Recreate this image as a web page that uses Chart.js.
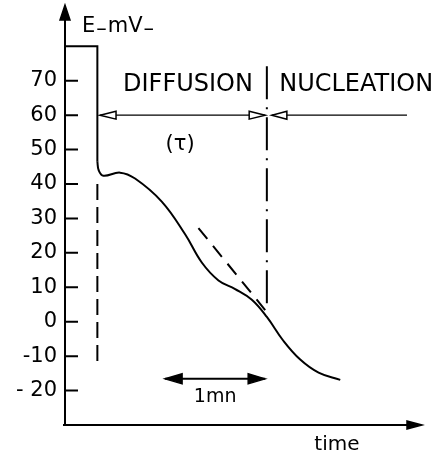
<!DOCTYPE html>
<html>
<head>
<meta charset="utf-8">
<script src="https://cdn.jsdelivr.net/npm/chart.js@4.4.1/dist/chart.umd.min.js"></script>
<style>
  body { margin: 0; background: #fff; }
  canvas { display: block; }
</style>
</head>
<body>
<canvas id="chart" width="441" height="454"></canvas>
<script>
// time in seconds (1mn = 60 s), potential in mV
const stepTimes = [0, 19.4, 19.4];
const stepValues = [80, 80, 46.5];

const curveTimes = [19.4, 20.2, 23, 33, 42, 58, 72, 82, 92, 102, 112, 121, 131, 141, 152, 165];
const curveValues = [46.5, 44.0, 42.4, 43.3, 41.6, 34.9, 25.4, 17.2, 12.0, 9.5, 6.4, 1.4, -5.6, -11.0, -14.8, -16.9];

const startTime = 19.4;
const startLine = [40, -11.7];
const tauTime = 121;
const tauLine = [74.2, 4];
const tangentTimes = [80, 120];
const tangentValues = [27.2, 3.4];

const arrowLevel = 60;
const diffusionSpan = [21, 120];
const nucleationSpan = [124, 205];
const minuteLevel = -16.6;
const minuteSpan = [60, 120];

const yTicks = [70, 60, 50, 40, 30, 20, 10, 0, -10, -20];
const yTickLabels = ['70', '60', '50', '40', '30', '20', '10', '0', '-10', '- 20'];

const ink = '#000';
const font = 'DejaVu Sans';

const pts = (xs, ys) => xs.map((x, i) => ({ x: x, y: ys[i] }));
const vline = (t, ys) => ys.map(v => ({ x: t, y: v }));
const hline = (v, xs) => xs.map(t => ({ x: t, y: v }));

function head(ctx, x, y, ang, len, half, filled) {
  ctx.save();
  ctx.translate(x, y);
  ctx.rotate(ang);
  ctx.beginPath();
  ctx.moveTo(0, 0);
  ctx.lineTo(-len, -half);
  ctx.lineTo(-len, half);
  ctx.closePath();
  ctx.fillStyle = filled ? ink : '#fff';
  ctx.fill();
  ctx.lineWidth = 1.5;
  ctx.strokeStyle = ink;
  ctx.stroke();
  ctx.restore();
}

const scribe = {
  id: 'scribe',
  beforeDatasetsDraw(chart) {
    const { ctx, chartArea: a, scales: { y } } = chart;
    ctx.save();
    ctx.strokeStyle = ink;
    ctx.lineWidth = 2;
    ctx.beginPath();
    ctx.moveTo(a.left, a.bottom);
    ctx.lineTo(a.left, a.top + 12);
    ctx.moveTo(a.left - 2, a.bottom);
    ctx.lineTo(a.right - 12, a.bottom);
    yTicks.forEach(v => {
      const p = y.getPixelForValue(v);
      ctx.moveTo(a.left, p);
      ctx.lineTo(a.left + 13, p);
    });
    ctx.stroke();
    head(ctx, a.left, a.top, -Math.PI / 2, 15, 5, true);
    head(ctx, a.right, a.bottom, 0, 15, 4, true);
    ctx.restore();
  },
  afterDatasetsDraw(chart) {
    const { ctx, scales: { x, y } } = chart;
    chart.data.datasets.forEach((ds, i) => {
      const p = chart.getDatasetMeta(i).data;
      if (!p.length) return;
      const n = p.length;
      if (ds.arrowStart) {
        const ang = Math.atan2(p[0].y - p[1].y, p[0].x - p[1].x);
        head(ctx, p[0].x, p[0].y, ang, ds.arrowLen, ds.arrowHalf, ds.arrowStart === 'filled');
      }
      if (ds.arrowEnd) {
        const ang = Math.atan2(p[n - 1].y - p[n - 2].y, p[n - 1].x - p[n - 2].x);
        head(ctx, p[n - 1].x, p[n - 1].y, ang, ds.arrowLen, ds.arrowHalf, ds.arrowEnd === 'filled');
      }
    });

    ctx.save();
    ctx.fillStyle = ink;
    ctx.textBaseline = 'alphabetic';
    const text = (s, t, v, size, align) => {
      ctx.font = size + 'px "' + font + '"';
      ctx.textAlign = align;
      ctx.fillText(s, x.getPixelForValue(t), y.getPixelForValue(v));
    };
    text('DIFFUSION', 34.8, 67, 24, 'left');
    text('NUCLEATION', 128.4, 67, 24, 'left');
    ctx.textBaseline = 'middle';
    text('(\u03c4)', 69, 51.5, 21, 'center');
    ctx.textBaseline = 'alphabetic';
    text('1mn', 90, -23.4, 19, 'center');
    text('time', 163, -37.4, 20, 'center');

    // axis title E-mV- with lowered dashes
    ctx.font = '21px "' + font + '"';
    ctx.textAlign = 'left';
    let px = x.getPixelForValue(10.2);
    const base = y.getPixelForValue(84.2);
    [['E', 0], ['\u2013', 3], ['mV', 0], ['\u2013', 3]].forEach(([s, dy]) => {
      ctx.fillText(s, px, base + dy);
      px += ctx.measureText(s).width + 1;
    });
    ctx.restore();
  }
};

new Chart(document.getElementById('chart'), {
  type: 'line',
  data: {
    datasets: [
      { data: pts(stepTimes, stepValues), borderWidth: 2, tension: 0 },
      { data: pts(curveTimes, curveValues), borderWidth: 2, tension: 0.4 },
      { data: vline(startTime, startLine), borderWidth: 2, borderDash: [16, 7] },
      { data: vline(tauTime, tauLine), borderWidth: 2, borderDash: [33, 8, 2, 8] },
      { data: pts(tangentTimes, tangentValues), borderWidth: 2, borderDash: [14, 9] },
      { data: hline(arrowLevel, diffusionSpan), borderWidth: 1.3,
        arrowStart: 'open', arrowEnd: 'open', arrowLen: 16, arrowHalf: 4 },
      { data: hline(arrowLevel, nucleationSpan), borderWidth: 1.3,
        arrowStart: 'open', arrowLen: 15, arrowHalf: 4 },
      { data: hline(minuteLevel, minuteSpan), borderWidth: 2,
        arrowStart: 'filled', arrowEnd: 'filled', arrowLen: 17, arrowHalf: 5 }
    ]
  },
  options: {
    responsive: false,
    animation: false,
    devicePixelRatio: 1,
    layout: { padding: { top: 5, right: 19, bottom: 29, left: 0 } },
    elements: {
      point: { radius: 0 },
      line: { borderColor: ink, fill: false, borderCapStyle: 'butt' }
    },
    datasets: { line: { clip: false } },
    plugins: { legend: { display: false }, tooltip: { enabled: false } },
    scales: {
      x: { type: 'linear', min: 0, max: 214, display: false },
      y: {
        type: 'linear',
        min: -30,
        max: 92,
        afterFit: s => {
          s.width = 65;
          s.paddingTop = 0;
          s.paddingBottom = 0;
        },
        afterBuildTicks: s => { s.ticks = yTicks.map(v => ({ value: v })); },
        grid: { display: false, drawTicks: false },
        border: { display: false },
        ticks: {
          padding: 8,
          color: ink,
          font: { family: font, size: 21 },
          callback: v => yTickLabels[yTicks.indexOf(v)]
        }
      }
    }
  },
  plugins: [scribe]
});
</script>
</body>
</html>
